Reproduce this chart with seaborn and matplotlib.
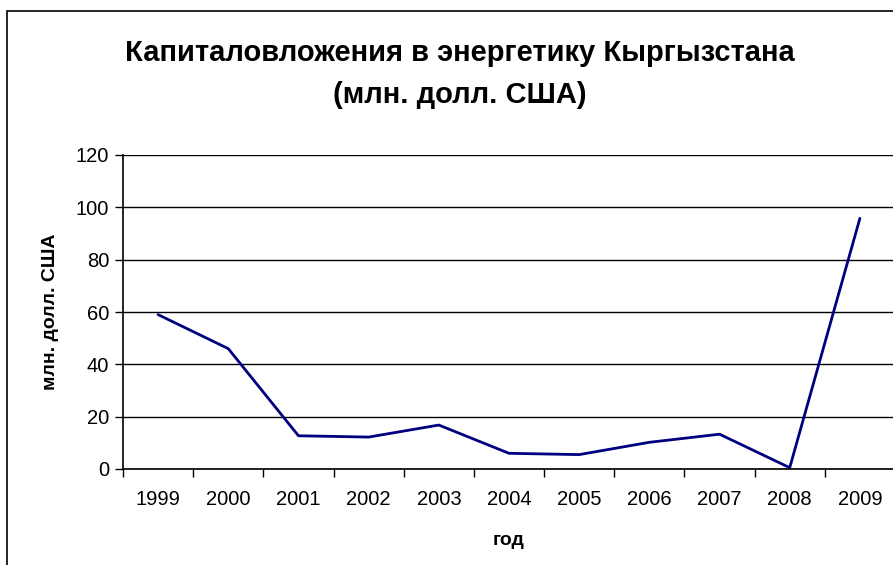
import matplotlib
matplotlib.use("Agg")
import matplotlib.pyplot as plt
from matplotlib.patches import Rectangle
from matplotlib.ticker import FixedLocator, MultipleLocator
import seaborn as sns
import pandas as pd

years = ['1999', '2000', '2001', '2002', '2003', '2004', '2005', '2006', '2007', '2008', '2009']
investments = [59, 46, 12.7, 12.2, 16.8, 6.0, 5.5, 10.2, 13.3, 0.5, 95.8]

title = 'Капиталовложения в энергетику Кыргызстана\n(млн. долл. США)'
x_label = 'год'
y_label = 'млн. долл. США'

sns.set_style('white')
plt.rcParams['font.family'] = ['Liberation Sans', 'DejaVu Sans']
plt.rcParams['text.color'] = 'black'
plt.rcParams['axes.labelcolor'] = 'black'
plt.rcParams['xtick.color'] = 'black'
plt.rcParams['ytick.color'] = 'black'

W, H = 893, 565
fig = plt.figure(figsize=(W / 100, H / 100), dpi=100)
ax = fig.add_axes([123 / W, (H - 469) / H, (895 - 123) / W, (469 - 155) / H])

df = pd.DataFrame({'year': years, 'value': investments})
sns.lineplot(data=df, x='year', y='value', ax=ax, color='#000080', linewidth=2.0, sort=False)

ax.set_xlim(-0.5, len(years) - 0.5)
ax.set_ylim(0, 120)
ax.yaxis.set_major_locator(MultipleLocator(20))
ax.grid(axis='y', color='black', linewidth=1.0)
ax.set_axisbelow(True)

# category labels at centres, tick marks between categories
ax.set_xticks(range(len(years)))
ax.set_xticklabels(years)
ax.xaxis.set_minor_locator(FixedLocator([i - 0.5 for i in range(len(years) + 1)]))
ax.tick_params(axis='x', which='major', length=0, pad=15, labelsize=14.5)
ax.tick_params(axis='x', which='minor', length=6, width=1, color='black', direction='out', bottom=True)
ax.tick_params(axis='y', length=6, width=1, color='black', direction='out', left=True, labelsize=14.5, pad=4)

for side in ['top', 'right']:
    ax.spines[side].set_visible(False)
for side in ['left', 'bottom']:
    ax.spines[side].set_color('black')
    ax.spines[side].set_linewidth(1.2)

ax.set_xlabel(x_label, fontsize=14, fontweight='bold', labelpad=17)
ax.set_ylabel(y_label, fontsize=14, fontweight='bold', labelpad=12)

fig.text(460 / W, 1 - 74 / H, title, ha='center', va='center', fontsize=21,
         fontweight='bold', linespacing=1.65)

# chart area frame (cut at right and bottom edges)
fig.add_artist(Rectangle((7 / W, -0.1), 1.2, 1 - 11 / H + 0.1, transform=fig.transFigure,
                         fill=False, edgecolor='black', linewidth=1.2))

fig.savefig('out.png', dpi=100)
